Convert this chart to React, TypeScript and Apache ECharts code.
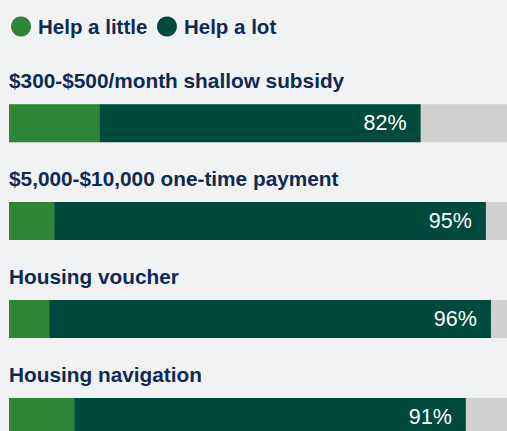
import React, { useEffect, useRef } from "react";
import * as echarts from "echarts";

const categories = [
  "$300-$500/month shallow subsidy",
  "$5,000-$10,000 one-time payment",
  "Housing voucher",
  "Housing navigation",
];
const helpLittle = [18, 9, 8, 13];
const helpLot = [64, 86, 88, 78];
const totals = [82, 95, 96, 91];

const NAVY = "#0f2a50";

export default function App() {
  const ref = useRef<HTMLDivElement>(null);
  useEffect(() => {
    if (!ref.current) return;
    const chart = echarts.init(ref.current, null, { renderer: "svg" });
    chart.setOption({
      animation: false,
      backgroundColor: "#f1f2f4",
      textStyle: { fontFamily: "Liberation Sans, Arial, sans-serif" },
      legend: {
        left: 11,
        top: 16,
        padding: 0,
        icon: "circle",
        itemWidth: 20,
        itemHeight: 20,
        itemGap: 9.6,
        textStyle: {
          color: NAVY,
          fontSize: 20.5,
          fontWeight: "bold",
          fontFamily: "Liberation Sans, Arial, sans-serif",
          padding: [0, 0, 0, 2],
        },
        data: ["Help a little", "Help a lot"],
      },
      grid: {
        left: 9,
        right: -4,
        top: 74.2,
        height: 391.7,
        outerBoundsMode: "none",
        containLabel: false,
      },
      xAxis: { type: "value", min: 0, max: 100, show: false },
      yAxis: {
        type: "category",
        inverse: true,
        data: categories,
        axisLine: { show: false },
        axisTick: { show: false },
        splitLine: { show: false },
        axisLabel: { show: false },
      },
      series: [
        {
          name: "Help a little",
          type: "bar",
          stack: "total",
          barWidth: 38,
          data: helpLittle,
          itemStyle: { color: "#2e8536" },
          showBackground: true,
          backgroundStyle: { color: "#d0d1cf" },
          label: {
            show: true,
            position: [0, -23.4],
            align: "left",
            verticalAlign: "middle",
            color: NAVY,
            fontSize: 20.8,
            fontWeight: "bold",
            fontFamily: "Liberation Sans, Arial, sans-serif",
            formatter: (p: any) => categories[p.dataIndex],
          },
        },
        {
          name: "Help a lot",
          type: "bar",
          stack: "total",
          barWidth: 38,
          data: helpLot,
          itemStyle: { color: "#004a3c" },
          label: {
            show: true,
            position: "insideRight",
            distance: 14,
            color: "#ffffff",
            fontSize: 21.5,
            fontFamily: "Liberation Sans, Arial, sans-serif",
            formatter: (p: any) => totals[p.dataIndex] + "%",
          },
        },
      ],
    });
    return () => chart.dispose();
  }, []);
  return (
    <div
      ref={ref}
      style={{ position: "fixed", left: 0, top: 0, width: 507, height: 431 }}
    />
  );
}
